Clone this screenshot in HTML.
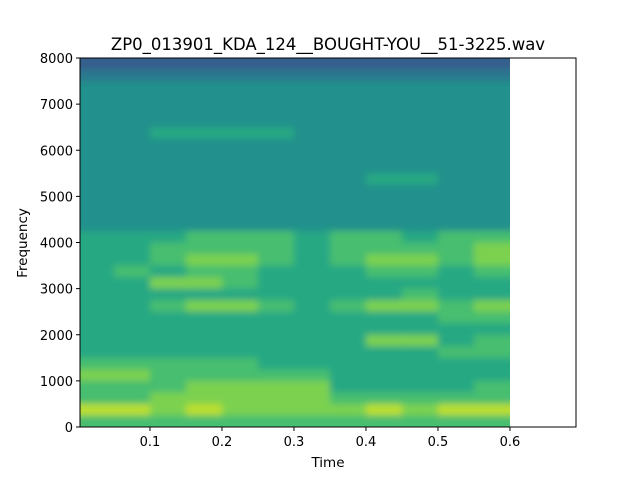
<!DOCTYPE html>
<html><head><meta charset="utf-8"><style>
html,body{margin:0;padding:0;background:#fff;}
svg{display:block;font-family:"DejaVu Sans","Liberation Sans",sans-serif;}
</style></head><body>
<svg id="chart" width="640" height="480">
<defs><clipPath id="clip"><rect x="80" y="58" width="430" height="369"/></clipPath>
<filter id="soft" x="-10%" y="-10%" width="120%" height="120%"><feGaussianBlur stdDeviation="3.5"/></filter></defs>
<rect x="0" y="0" width="640" height="480" fill="#fff"/>
<g clip-path="url(#clip)"><g id="heat" filter="url(#soft)"></g></g>
<rect x="80" y="58" width="496" height="369" fill="none" stroke="#000" stroke-width="1"/>
<g id="xticks"></g>
<g id="yticks"></g>
<text x="328" y="50" text-anchor="middle" font-size="16.5">ZP0_013901_KDA_124__BOUGHT-YOU__51-3225.wav</text>
<text x="328" y="467" text-anchor="middle" font-size="13.5">Time</text>
<text x="0" y="0" transform="translate(27,243) rotate(-90)" text-anchor="middle" font-size="13.5">Frequency</text>
</svg>
<script>
// time bins (s, start), frequency bins (Hz, start), intensity rows top(8000) -> bottom(0), digits 0-9
const timeBins = [0,0.05,0.1,0.15,0.2,0.25,0.3,0.35,0.4,0.45,0.5,0.55];
const binWidth = 0.05;
const freqStep = 250;
const intensityRows = [
"222222222222","333333333333","444444444444","444444444444",
"444444444444","444444444444","445555444444","444444444444",
"444444444444","444444444444","444444445544","444444444444",
"444444444444","444444444444","444444444444","555666566566",
"556666566667","556776567767","565665556656","557765555555",
"555555555655","556776567767","555555555566","555555555555",
"555555557756","555555555566","666665555555","776666655555",
"666777755556","667777766666","887877778788","666666666666"];
const xTicks = [0.1,0.2,0.3,0.4,0.5,0.6];
const yTicks = [0,1000,2000,3000,4000,5000,6000,7000,8000];

const NS='http://www.w3.org/2000/svg';
const X0=80,X1=576,T0=0.0028,T1=0.6917,Y0=427,Y1=58,F1=8000;
function xs(t){return X0+(t-T0)/(T1-T0)*(X1-X0);}
function ys(f){return Y0-f/F1*(Y0-Y1);}
const vir=[[68,1,84],[72,40,120],[62,74,137],[49,104,142],[38,130,142],[31,158,137],[53,183,121],[110,206,88],[181,222,43],[253,231,37]];
function viridis(v){v=Math.max(0,Math.min(1,v))*9;const i=Math.min(8,Math.floor(v)),f=v-i;const a=vir[i],b=vir[i+1];
return 'rgb('+a.map((c,k)=>Math.round(c+(b[k]-c)*f)).join(',')+')';}
const heat=document.getElementById('heat');
const nR=intensityRows.length, nC=timeBins.length, PAD=20;
intensityRows.forEach((row,ri)=>{
  const fTop=(nR-ri)*freqStep, fBot=fTop-freqStep;
  timeBins.forEach((t,ci)=>{
    const v=parseInt(row[ci])/10+0.1;
    const r=document.createElementNS(NS,'rect');
    let xa=xs(Math.max(t,T0)), xb=xs(t+binWidth)+0.5;
    let ya=ys(fTop), yb=ys(fBot)+0.5;
    if(ci===0) xa-=PAD;
    if(ci===nC-1) xb+=PAD;
    if(ri===0) ya-=PAD;
    if(ri===nR-1) yb+=PAD;
    r.setAttribute('x',xa);r.setAttribute('y',ya);
    r.setAttribute('width',xb-xa);r.setAttribute('height',yb-ya);
    r.setAttribute('fill',viridis(v));
    
    
    heat.appendChild(r);
  });
});
const xg=document.getElementById('xticks');
xTicks.forEach(t=>{
  const x=xs(t);
  const l=document.createElementNS(NS,'line');
  l.setAttribute('x1',x);l.setAttribute('x2',x);l.setAttribute('y1',427);l.setAttribute('y2',431);l.setAttribute('stroke','#000');
  
  
  xg.appendChild(l);
  const tx=document.createElementNS(NS,'text');
  tx.setAttribute('x',x);tx.setAttribute('y',446);tx.setAttribute('text-anchor','middle');tx.setAttribute('font-size','13');
  tx.textContent=t.toFixed(1);
  
  
  xg.appendChild(tx);
});
const yg=document.getElementById('yticks');
yTicks.forEach(f=>{
  const y=ys(f);
  const l=document.createElementNS(NS,'line');
  l.setAttribute('x1',76);l.setAttribute('x2',80);l.setAttribute('y1',y);l.setAttribute('y2',y);l.setAttribute('stroke','#000');
  
  
  yg.appendChild(l);
  const tx=document.createElementNS(NS,'text');
  tx.setAttribute('x',73);tx.setAttribute('y',y+5);tx.setAttribute('text-anchor','end');tx.setAttribute('font-size','13');
  tx.textContent=String(f);
  
  
  yg.appendChild(tx);
});
</script>
</body></html>
